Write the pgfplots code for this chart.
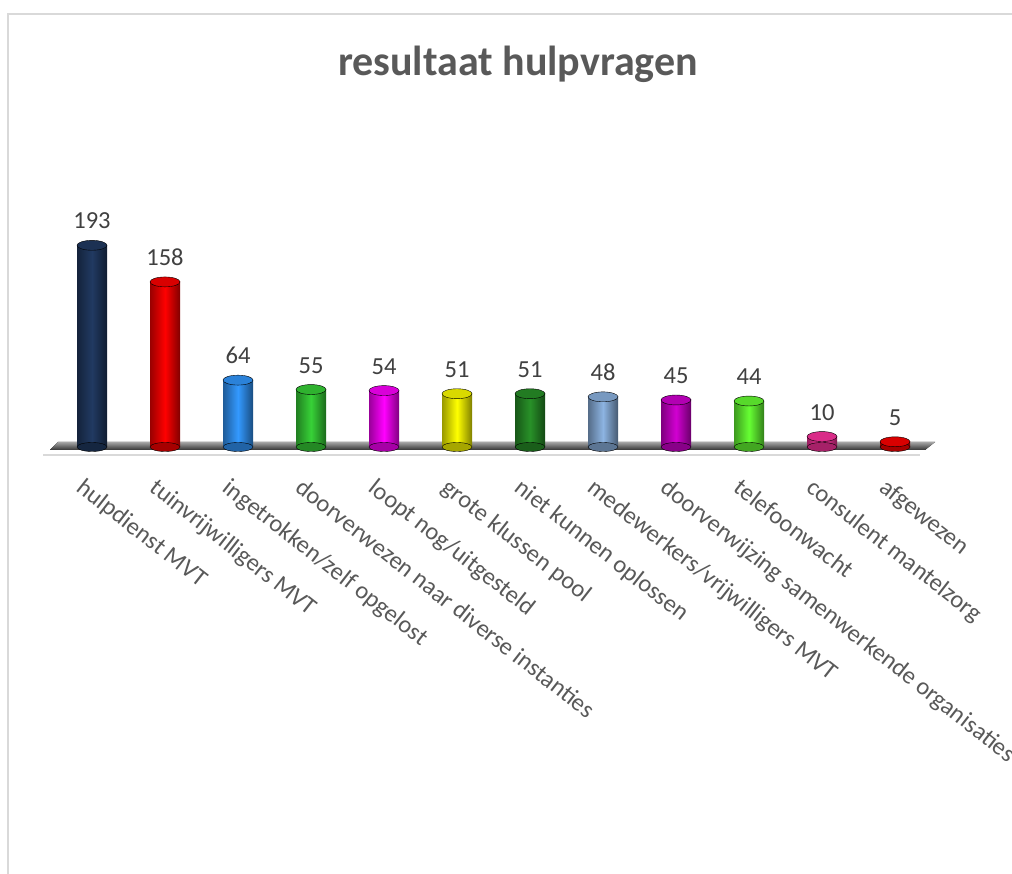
\documentclass[border=0pt]{standalone}
\usepackage{fontspec}
\setmainfont{Carlito}
\usepackage{pgfplots}
\pgfplotsset{compat=1.18}
\definecolor{c1}{RGB}{33,58,98}
\definecolor{c2}{RGB}{255,0,0}
\definecolor{c3}{RGB}{51,153,255}
\definecolor{c4}{RGB}{55,210,55}
\definecolor{c5}{RGB}{255,0,255}
\definecolor{c6}{RGB}{255,255,0}
\definecolor{c7}{RGB}{40,145,40}
\definecolor{c8}{RGB}{141,180,226}
\definecolor{c9}{RGB}{210,0,210}
\definecolor{c10}{RGB}{102,255,51}
\definecolor{c11}{RGB}{255,51,160}
\definecolor{c12}{RGB}{255,0,0}
\definecolor{txtgray}{RGB}{89,89,89}
\definecolor{numgray}{RGB}{64,64,64}
\pgfplotsset{
  cylbot/.style={only marks, mark=*, mark size=15pt, mark options={yscale=0.3, draw=none, fill=#1!65!black}},
  cylbar/.style={ybar, bar width=30pt, bar shift=0pt, draw=none, left color=#1!60!black, right color=#1!50!black, middle color=#1},
  cyltop/.style={only marks, mark=*, mark size=15pt, mark options={yscale=0.33, draw=none, fill=#1!85!black},
    nodes near coords, every node near coord/.append style={font=\fontsize{24.5}{28}\selectfont, text=numgray, inner sep=0pt, anchor=south, yshift=16pt}},
}
\begin{document}
\begin{tikzpicture}
\useasboundingbox (0pt,0pt) rectangle (1012pt,873pt);
\clip (0pt,0pt) rectangle (1012pt,873pt);
\fill[white] (0pt,0pt) rectangle (1012pt,873pt);
\draw[black!15, line width=2pt] (8pt,-5pt) -- (8pt,859pt) -- (1020pt,859pt);
\node[text=txtgray, font=\fontsize{42}{50}\selectfont\bfseries] at (518pt,809pt) {resultaat hulpvragen};
\fill[top color=black!35, bottom color=black!80] (58pt,431pt) -- (935pt,431pt) -- (925pt,423pt) -- (50pt,423pt) -- cycle;
\draw[black!15, line width=2pt] (43pt,418pt) -- (920pt,418pt);
\begin{axis}[
  at={(55.5pt,426pt)}, anchor=south west,
  scale only axis, width=876pt, height=209pt,
  xmin=-0.5, xmax=11.5, ymin=0, ymax=200,
  clip=false,
  hide y axis,
  axis x line*=bottom,
  x axis line style={draw=none},
  major tick length=0pt,
  xtick={0,...,11},
  xticklabels={hulpdienst MVT, tuinvrijwilligers MVT, ingetrokken/zelf opgelost, doorverwezen naar diverse instanties, loopt nog/uitgesteld, grote klussen pool, niet kunnen oplossen, medewerkers/vrijwilligers MVT, doorverwijzing samenwerkende organisaties, telefoonwacht, consulent mantelzorg, afgewezen},
  xticklabel style={font=\fontsize{24.5}{28}\selectfont, text=txtgray, inner sep=0pt, anchor=north west, xshift=-6pt, yshift=-30pt, rotate=-38},
  /pgf/number format/assume math mode=true,
]
\addplot[cylbot=c1] coordinates {(0,0)};
\addplot[cylbar=c1] coordinates {(0,193)};
\addplot[cyltop=c1] coordinates {(0,193)};
\addplot[cylbot=c2] coordinates {(1,0)};
\addplot[cylbar=c2] coordinates {(1,158)};
\addplot[cyltop=c2] coordinates {(1,158)};
\addplot[cylbot=c3] coordinates {(2,0)};
\addplot[cylbar=c3] coordinates {(2,64)};
\addplot[cyltop=c3] coordinates {(2,64)};
\addplot[cylbot=c4] coordinates {(3,0)};
\addplot[cylbar=c4] coordinates {(3,55)};
\addplot[cyltop=c4] coordinates {(3,55)};
\addplot[cylbot=c5] coordinates {(4,0)};
\addplot[cylbar=c5] coordinates {(4,54)};
\addplot[cyltop=c5] coordinates {(4,54)};
\addplot[cylbot=c6] coordinates {(5,0)};
\addplot[cylbar=c6] coordinates {(5,51)};
\addplot[cyltop=c6] coordinates {(5,51)};
\addplot[cylbot=c7] coordinates {(6,0)};
\addplot[cylbar=c7] coordinates {(6,51)};
\addplot[cyltop=c7] coordinates {(6,51)};
\addplot[cylbot=c8] coordinates {(7,0)};
\addplot[cylbar=c8] coordinates {(7,48)};
\addplot[cyltop=c8] coordinates {(7,48)};
\addplot[cylbot=c9] coordinates {(8,0)};
\addplot[cylbar=c9] coordinates {(8,45)};
\addplot[cyltop=c9] coordinates {(8,45)};
\addplot[cylbot=c10] coordinates {(9,0)};
\addplot[cylbar=c10] coordinates {(9,44)};
\addplot[cyltop=c10] coordinates {(9,44)};
\addplot[cylbot=c11] coordinates {(10,0)};
\addplot[cylbar=c11] coordinates {(10,10)};
\addplot[cyltop=c11] coordinates {(10,10)};
\addplot[cylbot=c12] coordinates {(11,0)};
\addplot[cylbar=c12] coordinates {(11,5)};
\addplot[cyltop=c12] coordinates {(11,5)};
\end{axis}
\end{tikzpicture}
\end{document}
